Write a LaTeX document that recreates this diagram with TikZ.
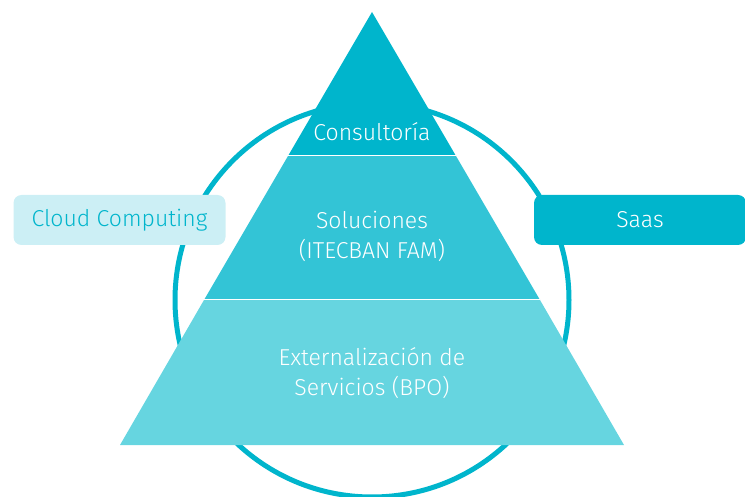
\documentclass[tikz,border=0pt]{standalone}
\usepackage{fontspec}
\setmainfont{Fira Sans}[UprightFont={* Light}]
\definecolor{ringblue}{RGB}{0,181,204}
\definecolor{midblue}{RGB}{51,196,214}
\definecolor{lowblue}{RGB}{102,213,224}
\definecolor{paleblue}{RGB}{204,239,245}
\tikzset{
  bandtext/.style={text=white, align=center, font=\fontsize{23}{30}\selectfont},
  sidebox/.style={rounded corners=8pt, minimum width=212pt, minimum height=50pt,
    font=\fontsize{23}{26}\selectfont}
}
\begin{document}
\begin{tikzpicture}[x=1pt,y=-1pt]
    \useasboundingbox (0,0) rectangle (745,497);
    % ring behind the pyramid
    \draw[ringblue, line width=5pt] (372,300) circle (197);
    % pyramid, three bands
    \fill[ringblue] (372,12) -- (456,156) -- (288,156) -- cycle;
    \fill[midblue] (288,156) -- (456,156) -- (540,300) -- (204,300) -- cycle;
    \fill[lowblue] (204,300) -- (540,300) -- (624,445) -- (120,445) -- cycle;
    \draw[white, line width=1pt] (288,156) -- (456,156);
    \draw[white, line width=1pt] (204,300) -- (540,300);
    \node[bandtext] (consult) at (372,132) {Consultoría};
    \node[bandtext] (soluc) at (372,236) {Soluciones\\(ITECBAN FAM)};
    \node[bandtext] (bpo) at (372,373) {Externalización de\\Servicios (BPO)};
    % side labels
    \node[sidebox, fill=paleblue, text=ringblue] (cloud) at (119.5,220) {Cloud Computing};
    \node[sidebox, fill=ringblue, text=white] (saas) at (640,220) {Saas};
\end{tikzpicture}
\end{document}
